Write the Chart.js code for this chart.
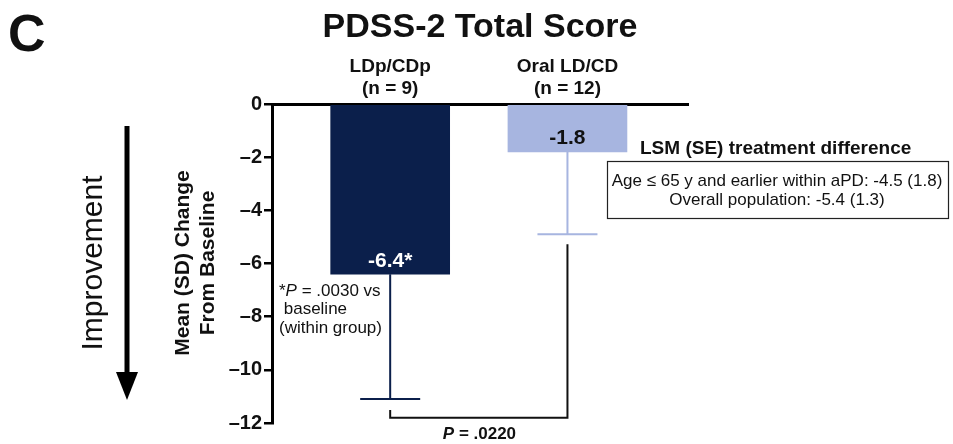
<!DOCTYPE html>
<html>
<head>
<meta charset="utf-8">
<script src="https://cdn.jsdelivr.net/npm/chart.js@4"></script>
<style>
  html, body { margin: 0; padding: 0; background: #fff; }
  #wrap { width: 953px; height: 444px; position: relative; }
</style>
</head>
<body>
<div id="wrap"><canvas id="pdssChart"></canvas></div>
<script>
// PDSS-2 total score, change from baseline
const groups = ['LDp/CDp', 'Oral LD/CD'];
const groupN = ['(n = 9)', '(n = 12)'];
const meanChange = [-6.4, -1.8];
const sdChange = [4.7, 3.1];
const valueLabels = ['-6.4*', '-1.8'];
const barColors = ['#0b1f4b', '#a7b5e0'];
const yTickValues = [0, -2, -4, -6, -8, -10, -12];

const FONT = "'Liberation Sans', Arial, sans-serif";

document.addEventListener("DOMContentLoaded", function() {
    const extras = {
        id: 'extras',
        afterDatasetsDraw(chart) {
            const ctx = chart.ctx;
            const x = chart.scales.x;
            const y = chart.scales.y;
            ctx.save();

            // error bars (SD, downward only)
            meanChange.forEach(function(m, i) {
                const cx = x.getPixelForValue(i + 1);
                const y0 = y.getPixelForValue(m);
                const y1 = y.getPixelForValue(m - sdChange[i]);
                ctx.strokeStyle = barColors[i];
                ctx.lineWidth = 2;
                ctx.beginPath();
                ctx.moveTo(cx, y0);
                ctx.lineTo(cx, y1);
                ctx.moveTo(cx - 30, y1);
                ctx.lineTo(cx + 30, y1);
                ctx.stroke();
            });

            // value labels
            ctx.font = 'bold 21px ' + FONT;
            ctx.textAlign = 'center';
            ctx.textBaseline = 'middle';
            ctx.fillStyle = '#ffffff';
            ctx.fillText(valueLabels[0], x.getPixelForValue(1), y.getPixelForValue(meanChange[0]) - 13);
            ctx.fillStyle = '#111111';
            ctx.fillText(valueLabels[1], x.getPixelForValue(2), y.getPixelForValue(meanChange[1]) - 14);

            // between-group bracket
            const bx1 = x.getPixelForValue(1);
            const bx2 = x.getPixelForValue(2);
            const by1 = y.getPixelForValue(meanChange[0] - sdChange[0]) + 11;
            const by2 = y.getPixelForValue(meanChange[1] - sdChange[1]) + 10;
            const byb = y.getPixelForValue(-11.8);
            ctx.strokeStyle = '#111111';
            ctx.lineWidth = 2;
            ctx.beginPath();
            ctx.moveTo(bx1, by1);
            ctx.lineTo(bx1, byb);
            ctx.lineTo(bx2, byb);
            ctx.lineTo(bx2, by2);
            ctx.stroke();

            ctx.fillStyle = '#111111';
            ctx.textBaseline = 'alphabetic';
            ctx.textAlign = 'left';
            let px = (bx1 + bx2) / 2 - 36;
            ctx.font = 'italic bold 17px ' + FONT;
            ctx.fillText('P', px, 439);
            px += ctx.measureText('P').width;
            ctx.font = 'bold 17px ' + FONT;
            ctx.fillText(' = .0220', px, 439);

            // within-group footnote
            ctx.font = '17px ' + FONT;
            let fx = 279;
            ctx.fillText('*', fx, 296);
            fx += ctx.measureText('*').width;
            ctx.font = 'italic 17px ' + FONT;
            ctx.fillText('P', fx, 296);
            fx += ctx.measureText('P').width;
            ctx.font = '17px ' + FONT;
            ctx.fillText(' = .0030 vs', fx, 296);
            ctx.fillText(' baseline', 279, 314);
            ctx.fillText('(within group)', 279, 333);

            ctx.restore();
        },
        afterDraw(chart) {
            const ctx = chart.ctx;
            ctx.save();
            ctx.fillStyle = '#111111';

            // panel letter and title
            ctx.textBaseline = 'alphabetic';
            ctx.textAlign = 'left';
            ctx.font = 'bold 52px ' + FONT;
            ctx.fillText('C', 8, 51);
            ctx.textAlign = 'center';
            ctx.font = 'bold 34px ' + FONT;
            ctx.fillText('PDSS-2 Total Score', 480, 37);

            // LSM box
            ctx.font = 'bold 19px ' + FONT;
            ctx.textAlign = 'left';
            ctx.fillText('LSM (SE) treatment difference', 640, 154);
            ctx.strokeStyle = '#222222';
            ctx.lineWidth = 1.2;
            ctx.strokeRect(607.5, 161.5, 341, 57);
            ctx.font = '17px ' + FONT;
            ctx.textAlign = 'center';
            ctx.fillText('Age \u2264 65 y and earlier within aPD: -4.5 (1.8)', 777, 186);
            ctx.fillText('Overall population: -5.4 (1.3)', 777, 205);

            // improvement arrow
            ctx.strokeStyle = '#000000';
            ctx.lineWidth = 5;
            ctx.beginPath();
            ctx.moveTo(127, 126);
            ctx.lineTo(127, 375);
            ctx.stroke();
            ctx.fillStyle = '#000000';
            ctx.beginPath();
            ctx.moveTo(116, 372);
            ctx.lineTo(138, 372);
            ctx.lineTo(127, 400);
            ctx.closePath();
            ctx.fill();

            // rotated labels
            ctx.save();
            ctx.translate(102, 263);
            ctx.rotate(-Math.PI / 2);
            ctx.font = '30px ' + FONT;
            ctx.textAlign = 'center';
            ctx.textBaseline = 'alphabetic';
            ctx.fillStyle = '#111111';
            ctx.fillText('Improvement', 0, 0);
            ctx.restore();

            ctx.save();
            ctx.translate(189, 263);
            ctx.rotate(-Math.PI / 2);
            ctx.font = 'bold 21px ' + FONT;
            ctx.textAlign = 'center';
            ctx.textBaseline = 'alphabetic';
            ctx.fillStyle = '#111111';
            ctx.fillText('Mean (SD) Change', 0, 0);
            ctx.fillText('From Baseline', 0, 25);
            ctx.restore();

            ctx.restore();
        }
    };

    const pdssData = {
        datasets: [{
            label: 'PDSS-2',
            data: meanChange.map(function(v, i) { return { x: i + 1, y: v }; }),
            backgroundColor: barColors,
            borderWidth: 0,
            barThickness: 119
        }]
    };

    const pdssOptions = {
        responsive: true,
        maintainAspectRatio: false,
        animation: false,
        layout: {
            padding: { left: 0, right: 265, top: 0, bottom: 21 }
        },
        scales: {
            x: {
                type: 'linear',
                position: 'top',
                offset: false,
                bounds: 'data',
                min: 1 / 3,
                max: 2.68,
                afterFit: function(scale) { scale.height = 104; },
                afterBuildTicks: function(scale) {
                    scale.ticks = groups.map(function(g, i) { return { value: i + 1 }; });
                },
                grid: { display: false, drawTicks: false, offset: false },
                border: { display: true, color: '#000000', width: 3 },
                ticks: {
                    autoSkip: false,
                    maxRotation: 0,
                    padding: 4,
                    color: '#111111',
                    font: { family: FONT, size: 19, weight: 'bold', lineHeight: 1.15 },
                    callback: function(value) {
                        const i = Math.round(value) - 1;
                        return [groups[i], groupN[i]];
                    }
                }
            },
            y: {
                min: -12,
                max: 0,
                afterFit: function(scale) { scale.width = 272; },
                afterBuildTicks: function(scale) {
                    scale.ticks = yTickValues.map(function(v) { return { value: v }; });
                },
                grid: {
                    display: true,
                    drawOnChartArea: false,
                    drawTicks: true,
                    tickLength: 8,
                    color: '#000000',
                    lineWidth: 2.5
                },
                border: { display: true, color: '#000000', width: 3 },
                ticks: {
                    padding: 2,
                    color: '#111111',
                    font: { family: FONT, size: 20, weight: 'bold' },
                    callback: function(value) {
                        return value < 0 ? '\u2013' + Math.abs(value) : String(value);
                    }
                }
            }
        },
        plugins: {
            legend: { display: false },
            tooltip: { enabled: false }
        }
    };

    new Chart(document.getElementById('pdssChart'), {
        type: 'bar',
        data: pdssData,
        options: pdssOptions,
        plugins: [extras]
    });
});
</script>
</body>
</html>
